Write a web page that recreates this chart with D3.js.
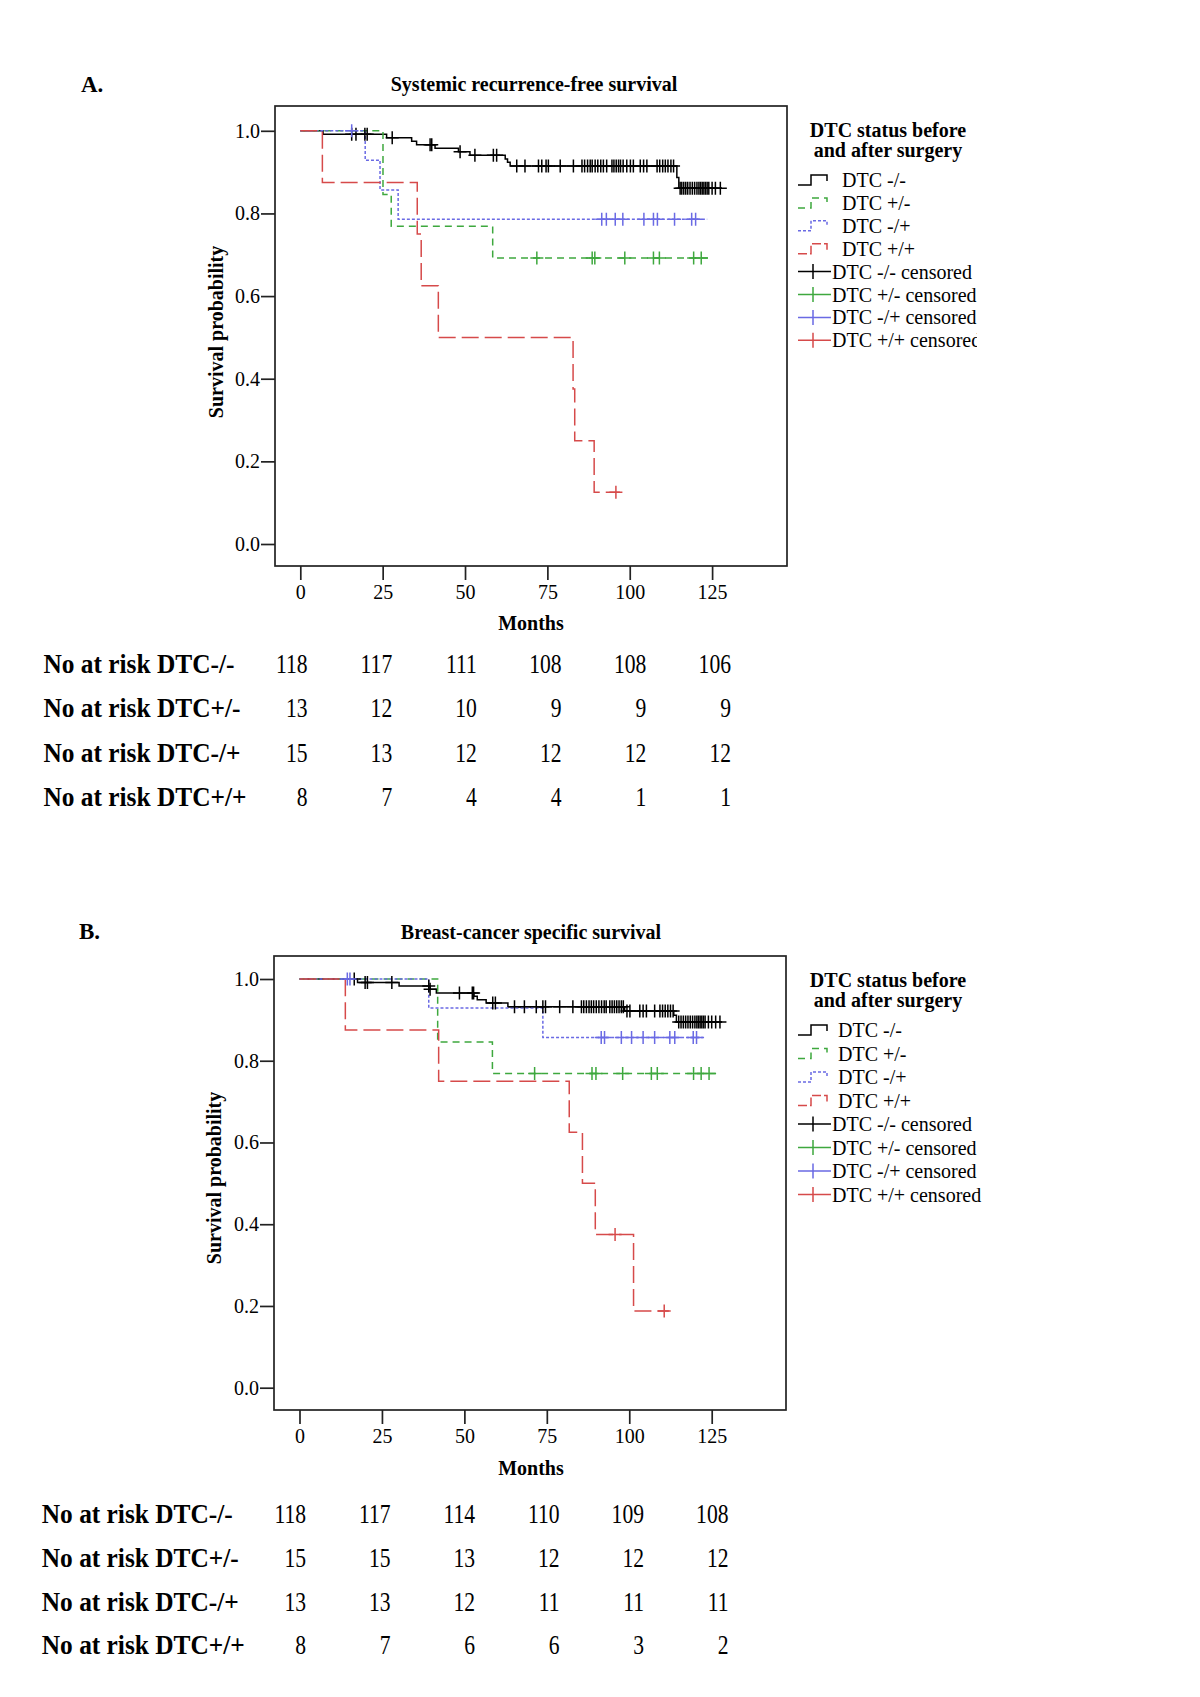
<!DOCTYPE html>
<html><head><meta charset="utf-8">
<script src="https://cdn.jsdelivr.net/npm/d3@7"></script>
<style>
body{margin:0;background:#fff}
svg{display:block}
text{font-family:"Liberation Serif","Times New Roman",serif;fill:#000}
</style>
</head><body>
<svg id="c" width="1200" height="1697"></svg>
<script>
// ---------- shared labels ----------
const monthTicks = [0, 25, 50, 75, 100, 125];
const probTicks = [0, 0.2, 0.4, 0.6, 0.8, 1.0];
const groups = ["DTC -/-", "DTC +/-", "DTC -/+", "DTC +/+"];
const censoredLabels = ["DTC -/- censored", "DTC +/- censored", "DTC -/+ censored", "DTC +/+ censored"];
const riskLabels = ["No at risk DTC-/-", "No at risk DTC+/-", "No at risk DTC-/+", "No at risk DTC+/+"];
const legendTitle = ["DTC status before", "and after surgery"];

// ---------- Panel A: systemic recurrence-free survival ----------
const aTitle = "Systemic recurrence-free survival";
const aStepsNN = [[0,1],[6.9,0.9915],[26.2,0.983],[33.8,0.975],[35.3,0.966],[40.9,0.958],[48,0.949],[51.5,0.941],[62.2,0.932],[62.9,0.924],[63.7,0.915],[114.3,0.887],[114.9,0.861]];
const aEndNN = 128;
const aCensNN = [15.6,16.9,19.6,20.3,27.9,39.4,39.9,48.5,53,58.6,59.6,65.7,68.2,72.3,73.3,74.6,75.3,78.9,82.9,85.5,86.3,87.2,88,88.6,89.5,90.3,91.2,92,93,94.6,95.2,95.9,96.6,97.2,98,99.1,100.2,101.1,103.2,104.2,105.2,108.3,109.1,110,110.8,111.6,112.5,113.3,115.3,115.8,116.4,117,117.6,118.3,119,119.7,120.4,121,121.5,122,122.5,123,123.5,124,125,126,127.5];
const aStepsPN = [[0,1],[25.1,0.846],[27.6,0.769],[58.4,0.692]];
const aEndPN = 124.7;
const aCensPN = [71.8,88.6,89.4,98.5,107.2,109,119.4,121.7];
const aStepsNP = [[0,1],[19.7,0.929],[24.2,0.857],[29.7,0.786]];
const aEndNP = 123.5;
const aCensNP = [15.6,91.5,92.9,95.6,97.9,104.3,107.2,108.4,113.6,118.8,120];
const aStepsPP = [[0,1],[6.7,0.875],[35.5,0.75],[36.7,0.625],[41.9,0.5],[82.8,0.375],[83.3,0.25],[89.2,0.125]];
const aEndPP = 97;
const aCensPP = [95.8];
const aRiskNN = [118,117,111,108,108,106];
const aRiskPN = [13,12,10,9,9,9];
const aRiskNP = [15,13,12,12,12,12];
const aRiskPP = [8,7,4,4,1,1];

// ---------- Panel B: breast-cancer specific survival ----------
const bTitle = "Breast-cancer specific survival";
const bStepsNN = [[0,1],[17.6,0.9915],[30.2,0.983],[39.6,0.975],[41.5,0.966],[52.9,0.958],[53.9,0.949],[56.6,0.941],[63.2,0.932],[98.6,0.922],[113.5,0.911],[114.3,0.895]];
const bEndNN = 128;
const bCensNN = [16.6,19.9,20.6,28,39.2,39.6,48.5,52.4,52.8,58.6,59.4,65.2,68.2,71.8,73.8,74.6,78.9,82.9,85.5,86.2,87,87.8,88.5,89.2,90,90.8,91.6,92.4,93,94.1,94.8,95.5,96.2,96.9,97.6,98.2,99.3,100.2,103.2,104.2,105.2,107.7,109.3,110.1,110.9,111.7,112.5,113.3,115,115.7,116.4,117.1,117.8,118.5,119.2,119.9,120.5,121,121.5,122,122.5,123,124,125,126.2,127.5];
const bStepsPN = [[0,1],[41.9,0.846],[58.5,0.769]];
const bEndPN = 127.6;
const bCensPN = [71.3,88.7,89.9,98,106.7,108.5,119.5,121.8,124.2];
const bStepsNP = [[0,1],[39.2,0.929],[73.8,0.857]];
const bEndNP = 123;
const bCensNP = [14.5,15.3,91.5,92.5,97.6,100.7,104.2,107.7,112.3,113.8,119.4,120.4];
const bStepsPP = [[0,1],[13.9,0.875],[42.2,0.75],[81.8,0.625],[85.8,0.5],[89.7,0.375],[101.3,0.1875]];
const bEndPP = 112;
const bCensPP = [95.7,110.6];
const bRiskNN = [118,117,114,110,109,108];
const bRiskPN = [15,15,13,12,12,12];
const bRiskNP = [13,13,12,11,11,11];
const bRiskPP = [8,7,6,6,3,2];

// ---------- styling ----------
const colors = ["#000000", "#3ea83e", "#6a6ae4", "#d64a4a"];
const dashes = [null, "7,5", "3,2", "17,6"];
const FONT = '"Liberation Serif","Times New Roman",serif';

const svg = d3.select("#c");
svg.append("rect").attr("width", 1200).attr("height", 1697).attr("fill", "#fff");

function levelAt(steps, t) {
  let v = steps[0][1];
  for (const s of steps) { if (s[0] <= t) v = s[1]; }
  return v;
}

function drawPanel(cfg) {
  const g = svg.append("g");
  const x = d3.scaleLinear().domain([0, 125]).range(cfg.xr);
  const y = d3.scaleLinear().domain([0, 1]).range(cfg.yr);
  const f = cfg.frame;

  // letter & title
  g.append("text").attr("x", cfg.letter[1]).attr("y", cfg.letter[2])
    .attr("font-size", 23).attr("font-weight", "bold").text(cfg.letter[0]);
  g.append("text").attr("x", cfg.titlePos[0]).attr("y", cfg.titlePos[1])
    .attr("text-anchor", "middle").attr("font-size", 20).attr("font-weight", "bold").text(cfg.title);

  // axes
  const ya = g.append("g").attr("transform", `translate(${f[0]},0)`)
    .call(d3.axisLeft(y).tickValues(probTicks).tickFormat(d3.format(".1f")).tickSize(14).tickPadding(1));
  const xa = g.append("g").attr("transform", `translate(0,${f[3]})`)
    .call(d3.axisBottom(x).tickValues(monthTicks).tickFormat(d3.format("d")).tickSize(14).tickPadding(5));
  [ya, xa].forEach(a => {
    a.select(".domain").remove();
    a.selectAll("line").attr("stroke", "#222").attr("stroke-width", 1.7);
    a.selectAll("text").attr("font-size", 20).attr("font-family", FONT).attr("fill", "#000");
  });

  // frame
  g.append("rect").attr("x", f[0]).attr("y", f[1]).attr("width", f[2] - f[0]).attr("height", f[3] - f[1])
    .attr("fill", "none").attr("stroke", "#222").attr("stroke-width", 1.7);

  // axis titles
  g.append("text").attr("transform", `translate(${cfg.yLab[0]},${cfg.yLab[1]}) rotate(-90)`)
    .attr("text-anchor", "middle").attr("dy", "0.35em").attr("font-size", 20).attr("font-weight", "bold")
    .text("Survival probability");
  g.append("text").attr("x", cfg.xLab[0]).attr("y", cfg.xLab[1]).attr("text-anchor", "middle")
    .attr("font-size", 20).attr("font-weight", "bold").text("Months");

  // curves
  const line = d3.line().x(d => x(d[0])).y(d => y(d[1])).curve(d3.curveStepAfter);
  cfg.series.forEach((s, i) => {
    const pts = s.steps.concat([[s.end, s.steps[s.steps.length - 1][1]]]);
    g.append("path").attr("d", line(pts)).attr("fill", "none")
      .attr("stroke", colors[i]).attr("stroke-width", 1.5)
      .attr("stroke-dasharray", dashes[i]);
  });
  cfg.series.forEach((s, i) => {
    g.append("g").selectAll("path").data(s.cens).join("path")
      .attr("d", t => {
        const cx = x(t), cy = y(levelAt(s.steps, t));
        return `M${cx - 6.5},${cy}H${cx + 6.5}M${cx},${cy - 6.5}V${cy + 6.5}`;
      })
      .attr("fill", "none").attr("stroke", colors[i]).attr("stroke-width", 1.5);
  });

  // legend
  const lg = g.append("g");
  if (cfg.clip) {
    const id = "clip" + cfg.letter[0].replace(".", "");
    svg.append("defs").append("clipPath").attr("id", id)
      .append("rect").attr("x", 780).attr("y", cfg.legY0 - 80).attr("width", cfg.clip - 780).attr("height", 300);
    lg.attr("clip-path", `url(#${id})`);
  }
  legendTitle.forEach((t, i) => {
    lg.append("text").attr("x", 888).attr("y", cfg.legTitleY + i * 20).attr("text-anchor", "middle")
      .attr("font-size", 20).attr("font-weight", "bold").text(t);
  });
  groups.forEach((name, i) => {
    const yc = cfg.legY0 + i * cfg.legDy;
    lg.append("path").attr("d", `M798,${yc + 5}H811V${yc - 5}H827V${yc + 1}`)
      .attr("fill", "none").attr("stroke", colors[i]).attr("stroke-width", 1.5)
      .attr("stroke-dasharray", dashes[i] ? (i === 3 ? "9,3" : dashes[i]) : null);
    lg.append("text").attr("x", cfg.legTextX).attr("y", yc).attr("dy", "0.35em")
      .attr("font-size", 20).text(name);
  });
  censoredLabels.forEach((name, i) => {
    const yc = cfg.legY0 + (i + 4) * cfg.legDy;
    lg.append("path").attr("d", `M798,${yc}H831M813,${yc - 7.5}V${yc + 7.5}`)
      .attr("fill", "none").attr("stroke", colors[i]).attr("stroke-width", 1.5);
    lg.append("text").attr("x", 832).attr("y", yc).attr("dy", "0.35em")
      .attr("font-size", 20).text(name);
  });

  // number at risk table
  const col = d3.scaleLinear().domain([0, 125]).range(cfg.riskX);
  cfg.risk.forEach((row, r) => {
    const yc = cfg.riskY[0] + r * cfg.riskY[1];
    g.append("text").attr("transform", `translate(${cfg.riskLabelX},${yc}) scale(0.94,1)`)
      .attr("dy", "0.35em").attr("font-size", 27).attr("font-weight", "bold").text(riskLabels[r]);
    g.append("g").selectAll("text").data(row).join("text")
      .attr("transform", (d, k) => `translate(${col(monthTicks[k])},${yc}) scale(0.8,1)`)
      .attr("text-anchor", "end").attr("dy", "0.35em").attr("font-size", 27).text(d => d);
  });
}

drawPanel({
  letter: ["A.", 81, 92], title: aTitle, titlePos: [534, 91],
  frame: [275, 106, 787, 566], xr: [300.3, 712.1], yr: [544, 130.8],
  yLab: [216, 332], xLab: [531, 630],
  series: [
    {steps: aStepsNN, end: aEndNN, cens: aCensNN},
    {steps: aStepsPN, end: aEndPN, cens: aCensPN},
    {steps: aStepsNP, end: aEndNP, cens: aCensNP},
    {steps: aStepsPP, end: aEndPP, cens: aCensPP}
  ],
  legTitleY: 137, legY0: 180, legDy: 22.9, legTextX: 842, clip: 977,
  risk: [aRiskNN, aRiskPN, aRiskNP, aRiskPP], riskX: [307.5, 731], riskY: [663.5, 44.4], riskLabelX: 43.5
});

drawPanel({
  letter: ["B.", 79, 939], title: bTitle, titlePos: [531, 939],
  frame: [274, 956, 786, 1410], xr: [299.5, 711.7], yr: [1387.7, 979],
  yLab: [214, 1178], xLab: [531, 1475],
  series: [
    {steps: bStepsNN, end: bEndNN, cens: bCensNN},
    {steps: bStepsPN, end: bEndPN, cens: bCensPN},
    {steps: bStepsNP, end: bEndNP, cens: bCensNP},
    {steps: bStepsPP, end: bEndPP, cens: bCensPP}
  ],
  legTitleY: 987, legY0: 1030, legDy: 23.5, legTextX: 838, clip: null,
  risk: [bRiskNN, bRiskPN, bRiskNP, bRiskPP], riskX: [306, 728.5], riskY: [1513.3, 43.9], riskLabelX: 41.8
});
</script>
</body></html>
